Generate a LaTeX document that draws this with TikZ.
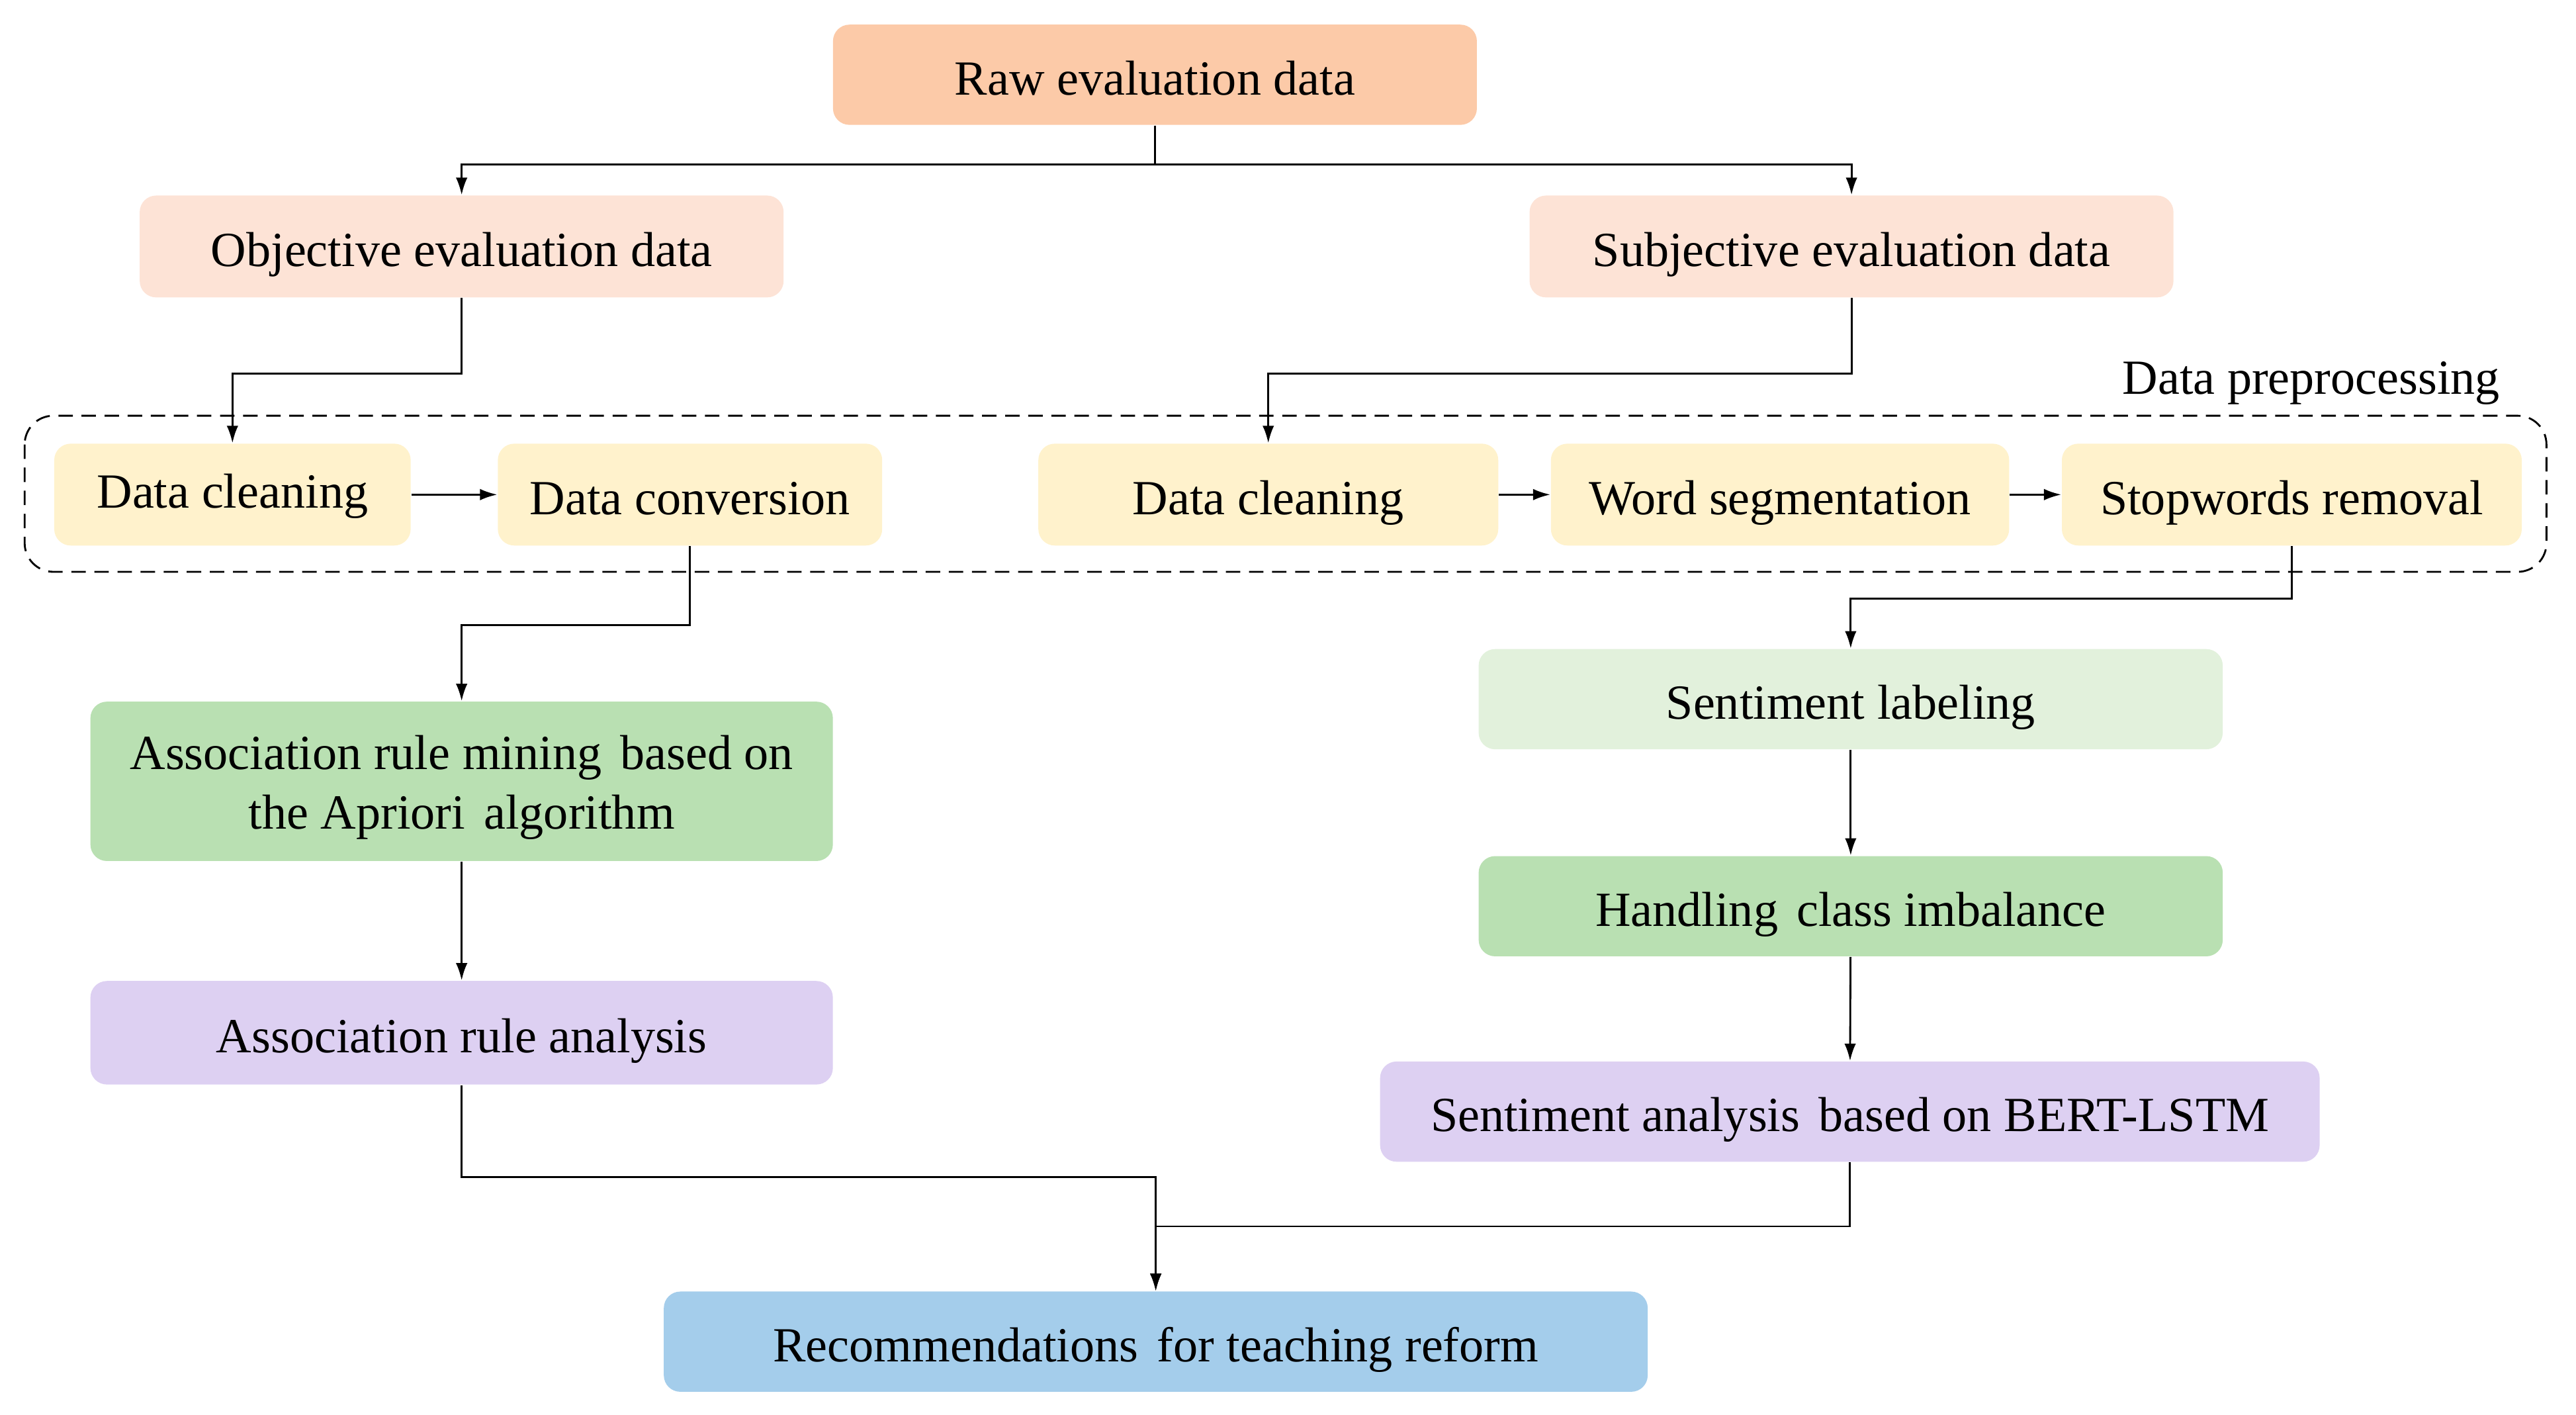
\documentclass[tikz,border=0pt]{standalone}
\usepackage{fontspec}
\setmainfont{Liberation Serif}
\usetikzlibrary{arrows.meta}
\definecolor{cRaw}{HTML}{FCCAA8}
\definecolor{cObj}{HTML}{FDE3D6}
\definecolor{cData}{HTML}{FFF2CC}
\definecolor{cGreen}{HTML}{B9E0B2}
\definecolor{cLGreen}{HTML}{E2F1DC}
\definecolor{cPurple}{HTML}{DDD0F2}
\definecolor{cBlue}{HTML}{A4CDEB}
\newcommand{\gp}{\hspace{0.38em}}
\begin{document}
\begin{tikzpicture}[x=0.02cm,y=-0.02cm,
  box/.style={rounded corners=0.2cm, inner sep=0pt, align=center, draw=none,
    text height=13.8pt, text depth=0pt,
    font=\fontsize{17}{20.5}\selectfont},
  arr/.style={-{Latex[length=6pt,width=4pt]}, line width=0.65pt},
  ln/.style={line width=0.65pt},
  dashbox/.style={dash pattern=on 5pt off 3pt, line width=0.65pt, rounded corners=0.35cm},
  lbl/.style={inner sep=0pt, font=\fontsize{17}{20.5}\selectfont}]
\useasboundingbox (0,0) rectangle (1568,861);

% dashed preprocessing frame
\draw[dashbox] (15,253) rectangle (1550,348);
\node[lbl, anchor=base east] (dplabel) at (1522,240) {Data preprocessing};

% nodes
\node[box, fill=cRaw, minimum width=7.84cm, minimum height=1.22cm] (raw) at (703,45.5) {Raw evaluation data};
\node[box, fill=cObj, minimum width=7.84cm, minimum height=1.24cm] (obj) at (281,150) {Objective evaluation data};
\node[box, fill=cObj, minimum width=7.84cm, minimum height=1.24cm] (subj) at (1127,150) {Subjective evaluation data};

\node[box, fill=cData, minimum width=4.34cm, minimum height=1.24cm, text height=9.3pt] (dcl) at (141.5,301) {Data cleaning};
\node[box, fill=cData, minimum width=4.68cm, minimum height=1.24cm] (dconv) at (420,301) {Data conversion};
\node[box, fill=cData, minimum width=5.6cm, minimum height=1.24cm] (dcr) at (772,301) {Data cleaning};
\node[box, fill=cData, minimum width=5.58cm, minimum height=1.24cm] (ws) at (1083.5,301) {Word segmentation};
\node[box, fill=cData, minimum width=5.6cm, minimum height=1.24cm] (sr) at (1395,301) {Stopwords removal};

\node[box, fill=cGreen, minimum width=9.04cm, minimum height=1.94cm, text height=32.9pt, text depth=0pt] (arm) at (281,475.5) {Association rule mining\gp based on\\the Apriori\gp algorithm};
\node[box, fill=cPurple, minimum width=9.04cm, minimum height=1.26cm] (ara) at (281,628.5) {Association rule analysis};

\node[box, fill=cLGreen, minimum width=9.06cm, minimum height=1.22cm] (sl) at (1126.5,425.5) {Sentiment labeling};
\node[box, fill=cGreen, minimum width=9.06cm, minimum height=1.22cm] (hci) at (1126.5,551.5) {Handling\gp class imbalance};
\node[box, fill=cPurple, minimum width=11.44cm, minimum height=1.22cm] (sa) at (1126,676.5) {Sentiment analysis\gp based on BERT-LSTM};

\node[box, fill=cBlue, minimum width=11.98cm, minimum height=1.22cm] (rec) at (703.5,816.5) {Recommendations\gp for teaching reform};

% connectors
\coordinate (j1) at (705,100);
\draw[ln] (raw.south) -- (raw.south |- j1);
\draw[arr] (raw.south |- j1) -| (obj.north);
\draw[arr] (raw.south |- j1) -| (subj.north);

\draw[arr] (obj.south) -- ++(0,46) -| (dcl.north);
\draw[arr] (subj.south) -- ++(0,46) -| (dcr.north);

\draw[arr] (dcl) -- (dconv);
\draw[arr] (dcr) -- (ws);
\draw[arr] (ws) -- (sr);

\draw[arr] (dconv.south) -- ++(0,48) -| (arm.north);
\draw[arr] (sr.south) -- ++(0,32) -| (sl.north);

\draw[arr] (arm) -- (ara);
\draw[arr] (sl) -- (hci);
\draw[arr] (hci) -- (sa);

\draw[arr] (ara.south) -- ++(0,56) -| (rec.north);
\draw[arr] (sa.south) -- ++(0,39) -| (rec.north);
\end{tikzpicture}
\end{document}
